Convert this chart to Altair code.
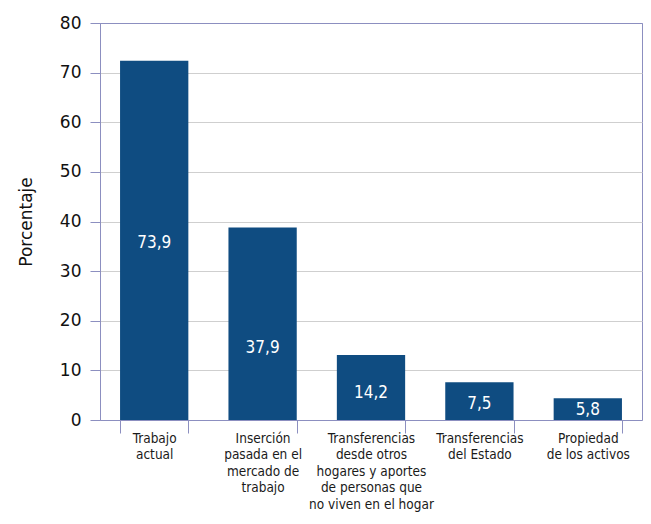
import altair as alt
import pandas as pd

categories = [
    "Trabajo|actual",
    "Inserción|pasada en el|mercado de|trabajo",
    "Transferencias|desde otros|hogares y aportes|de personas que|no viven en el hogar",
    "Transferencias|del Estado",
    "Propiedad|de los activos",
]
bar_heights = [72.4, 38.8, 13.1, 7.6, 4.4]
value_labels = ["73,9", "37,9", "14,2", "7,5", "5,8"]
label_at = [35.6, 14.5, 5.4, 3.3, 2.1]

df = pd.DataFrame({
    "cat": categories,
    "h": bar_heights,
    "lab": value_labels,
    "pos": label_at,
})

frame = "#8c8fc0"
bar_color = "#0f4c81"

x = alt.X("cat:N", sort=categories, title=None,
          scale=alt.Scale(paddingInner=0.37, paddingOuter=0.185),
          axis=alt.Axis(labelAngle=0, labelExpr="split(datum.label, '|')",
                        labelFont="DejaVu Sans Condensed", labelFontSize=13.5,
                        labelColor="#1a1a1a", labelLineHeight=16.5,
                        labelPadding=-2, tickSize=13, tickBand="extent",
                        tickColor=frame, domainColor=frame, labelBaseline="top"))

bars = alt.Chart(df).mark_bar(color=bar_color).encode(
    x=x,
    y=alt.Y("h:Q", title="Porcentaje",
            scale=alt.Scale(domain=[0, 80], nice=False),
            axis=alt.Axis(values=[0, 10, 20, 30, 40, 50, 60, 70, 80],
                          grid=True,
                          gridColor={"condition": {"test": "datum.value == 80", "value": frame}, "value": "#cfcfcf"},
                          labelFont="DejaVu Sans", labelFontSize=17, labelColor="#111111",
                          labelPadding=9, tickSize=10, tickColor=frame, domainColor=frame,
                          titleFont="DejaVu Sans", titleFontSize=17, titleFontWeight="normal",
                          titleColor="#111111", titlePadding=24)),
)

texts = alt.Chart(df).mark_text(color="white", font="DejaVu Sans Condensed",
                                fontSize=17, baseline="middle").encode(
    x=alt.X("cat:N", sort=categories),
    y=alt.Y("pos:Q"),
    text="lab:N",
)

chart = alt.layer(bars, texts).properties(
    width=542, height=397,
    autosize=alt.AutoSizeParams(type="none"),
    padding={"left": 92, "top": 15, "right": 1, "bottom": 95},
).configure_view(stroke=frame, strokeWidth=1)

chart.save("out.html", embed_options={"renderer": "svg", "actions": False})
